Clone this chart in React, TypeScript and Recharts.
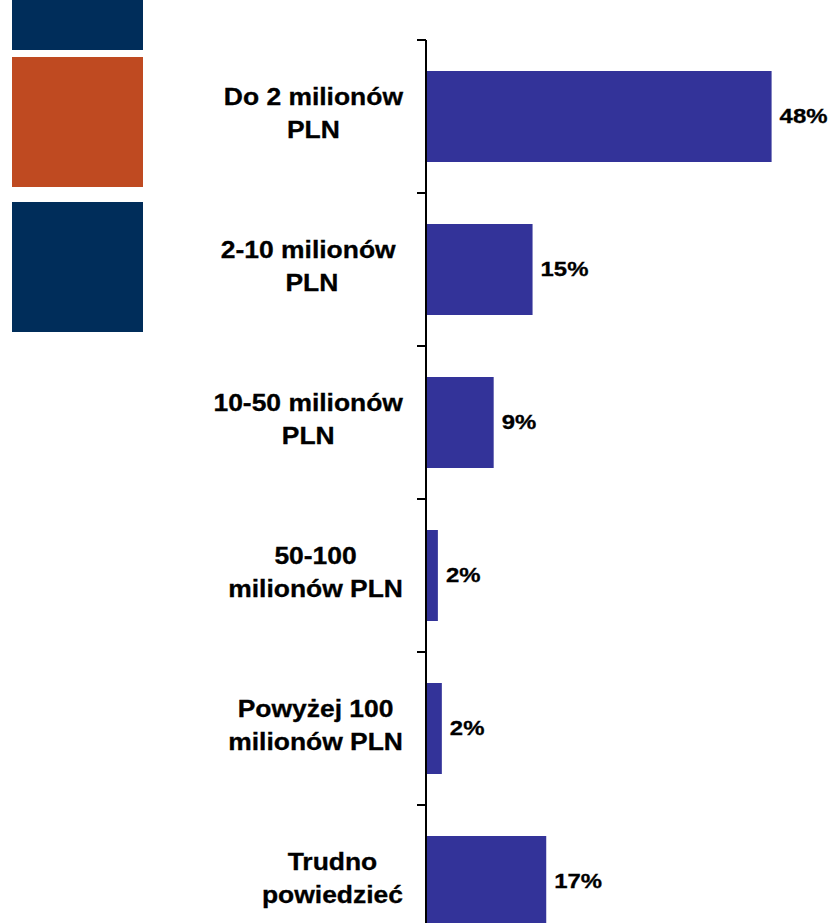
import React from 'react';
import { BarChart, Bar, XAxis, YAxis, LabelList } from 'recharts';

const categories = [
  'Do 2 milionów\nPLN',
  '2-10 milionów \nPLN',
  '10-50 milionów\nPLN',
  '50-100\nmilionów PLN',
  'Powyżej 100\nmilionów PLN',
  'Trudno\npowiedzieć',
];
const shares = [48, 14.8, 9.4, 1.65, 2.2, 16.7];

const data = categories.map((name, i) => ({ name, value: shares[i] }));

const CHART_W = 834;
const CHART_H = 958;
const MARGIN_TOP = 40;
const AXIS_X = 426;
const BAND = (CHART_H - MARGIN_TOP) / categories.length;
const SX = 1.15;
const FONT = "'Liberation Sans', Arial, sans-serif";
const LABEL_SIZE = 23;
const VALUE_SIZE = 20.8;
const BAR_COLOR = '#333399';

let ctx: CanvasRenderingContext2D | null = null;
function measure(text: string, size: number): number {
  if (!ctx) {
    const c = document.createElement('canvas');
    ctx = c.getContext('2d');
  }
  if (!ctx) return text.length * size * 0.6;
  ctx.font = `bold ${size}px 'Liberation Sans', Arial, sans-serif`;
  return ctx.measureText(text).width;
}

const LINE_OFFSETS = [-11.5, 21.5];

const CatTick = (props: any) => {
  const { y, payload } = props;
  const lines = String(payload.value).split('\n');
  const widths = lines.map((l) => measure(l, LABEL_SIZE) * SX);
  const maxW = Math.max(...widths);
  const cx = AXIS_X - 23 - maxW / 2;
  const top = y - BAND / 2;
  return (
    <g>
      <line x1={AXIS_X - 9} x2={AXIS_X} y1={top} y2={top} stroke="#000" strokeWidth={2} />
      {lines.map((l, i) => (
        <text
          key={i}
          transform={`translate(${cx},${y + LINE_OFFSETS[i]}) scale(${SX},1)`}
          textAnchor="middle"
          fontFamily={FONT}
          fontWeight="bold"
          fontSize={LABEL_SIZE}
          fill="#000"
          stroke="#000"
          strokeWidth={0.3}
          style={{ whiteSpace: 'pre' }}
        >
          {l}
        </text>
      ))}
    </g>
  );
};

const ValueLabel = (props: any) => {
  const { x, y, width, height, value } = props;
  const tx = Number(x) + Number(width) + 8;
  const ty = Number(y) + Number(height) / 2 + 6;
  return (
    <text
      transform={`translate(${tx},${ty}) scale(${SX},1)`}
      textAnchor="start"
      fontFamily={FONT}
      fontWeight="bold"
      fontSize={VALUE_SIZE}
      fill="#000"
      stroke="#000"
      strokeWidth={0.3}
    >
      {`${Math.round(Number(value))}%`}
    </text>
  );
};

export default function App() {
  return (
    <div
      style={{
        position: 'absolute',
        left: 0,
        top: 0,
        width: 834,
        height: 923,
        overflow: 'hidden',
        background: '#fff',
      }}
    >
      <div style={{ position: 'absolute', left: 12, top: 0, width: 131, height: 50, background: '#002D5A' }} />
      <div style={{ position: 'absolute', left: 12, top: 57, width: 131, height: 130, background: '#BF4A21' }} />
      <div style={{ position: 'absolute', left: 12, top: 202, width: 131, height: 130, background: '#002D5A' }} />
      <div style={{ position: 'absolute', left: 0, top: 0 }}>
        <BarChart
          width={CHART_W}
          height={CHART_H}
          data={data}
          layout="vertical"
          margin={{ top: MARGIN_TOP, right: 48, bottom: 0, left: 0 }}
        >
          <XAxis type="number" domain={[0, 50]} hide />
          <YAxis
            type="category"
            dataKey="name"
            width={AXIS_X}
            interval={0}
            axisLine={{ stroke: '#000', strokeWidth: 2 }}
            tickLine={false}
            tick={<CatTick />}
          />
          <Bar dataKey="value" fill={BAR_COLOR} barSize={91} isAnimationActive={false}>
            <LabelList dataKey="value" content={<ValueLabel />} />
          </Bar>
        </BarChart>
      </div>
    </div>
  );
}
